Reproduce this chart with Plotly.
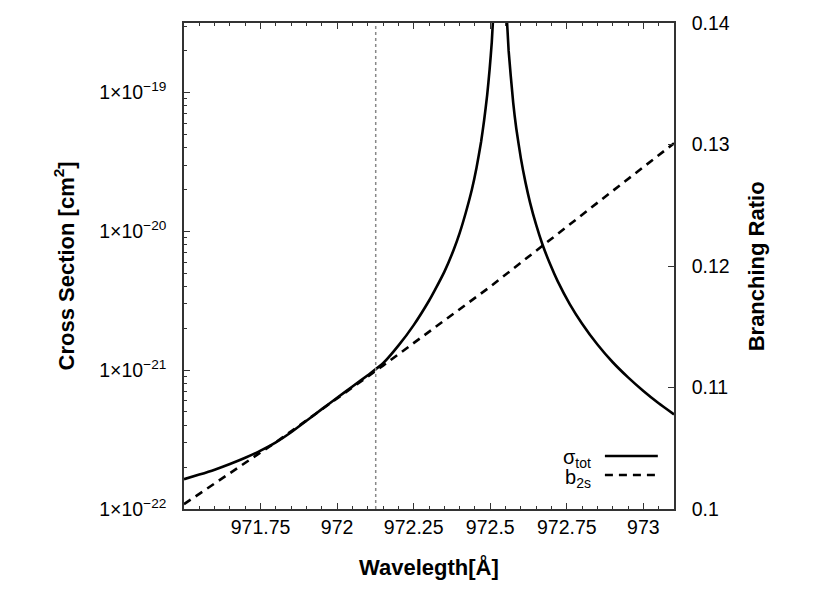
import plotly.graph_objects as go

# ---- data ----
wavelength_sigma = [971.50, 971.55, 971.60, 971.65, 971.70, 971.75, 971.80, 971.85,
                    971.90, 971.95, 972.00, 972.05, 972.10, 972.15, 972.20, 972.25,
                    972.30, 972.32, 972.35, 972.38, 972.40, 972.42, 972.44, 972.455,
                    972.47, 972.48, 972.49, 972.498, 972.505, 972.515, 972.532,
                    972.55, 972.56, 972.575, 972.585, 972.60, 972.615, 972.63, 972.65,
                    972.67, 972.695, 972.72, 972.76, 972.80, 972.85, 972.90, 972.95,
                    973.00, 973.05, 973.10]
sigma_tot = [1.64e-22, 1.77e-22, 1.92e-22, 2.11e-22, 2.34e-22, 2.63e-22, 3.02e-22, 3.57e-22,
             4.32e-22, 5.24e-22, 6.32e-22, 7.62e-22, 9.18e-22, 1.12e-21, 1.50e-21, 2.11e-21,
             3.16e-21, 3.8e-21, 5.1e-21, 7.3e-21, 9.7e-21, 1.36e-20, 2.0e-20, 2.86e-20,
             4.4e-20, 6.3e-20, 9.6e-20, 1.47e-19, 2.3e-19, 5.9e-19, 3.0e-18,
             5.2e-19, 2.0e-19, 8.4e-20, 5.5e-20, 3.35e-20, 2.25e-20, 1.61e-20, 1.11e-20,
             8.1e-21, 5.83e-21, 4.38e-21, 2.98e-21, 2.16e-21, 1.53e-21, 1.14e-21, 8.87e-22,
             7.08e-22, 5.77e-22, 4.80e-22]

wavelength_b2s = [971.50, 971.80, 972.15, 972.50, 972.86, 973.10]
b2s = [0.1004, 0.1055, 0.1118, 0.1183, 0.1254, 0.1301]

vline_wavelength = 972.126

x_tickvals = [971.75, 972.0, 972.25, 972.5, 972.75, 973.0]
x_ticktext = ["971.75", "972", "972.25", "972.5", "972.75", "973"]
y_tickvals = [1e-22, 1e-21, 1e-20, 1e-19]
y_ticktext = ["1\u00d710<sup>\u221222</sup>", "1\u00d710<sup>\u221221</sup>",
              "1\u00d710<sup>\u221220</sup>", "1\u00d710<sup>\u221219</sup>"]
y2_tickvals = [0.10, 0.11, 0.12, 0.13, 0.14]
y2_ticktext = ["0.1", "0.11", "0.12", "0.13", "0.14"]

FONT = "Liberation Sans, Arial, sans-serif"
AX = "#333333"

fig = go.Figure()
fig.add_trace(go.Scatter(x=wavelength_sigma, y=sigma_tot, mode="lines",
                         line=dict(color="black", width=2.6, shape="spline", smoothing=0.5),
                         showlegend=False, yaxis="y"))
fig.add_trace(go.Scatter(x=wavelength_b2s, y=b2s, mode="lines",
                         line=dict(color="black", width=2.6, dash="8px,6px"),
                         showlegend=False, yaxis="y2"))

fig.add_vline(x=vline_wavelength, line=dict(color="#888888", width=1.5, dash="3px,3px"))

minor_log = [m * 10.0 ** e for e in range(-22, -18) for m in range(2, 10)]
minor_log = [v for v in minor_log if v <= 10 ** -18.5]
minor_x = [971.5 + 0.05 * i for i in range(33)]

fig.update_layout(
    width=819, height=595,
    margin=dict(l=176, r=153, t=15, b=94, autoexpand=False),
    paper_bgcolor="white", plot_bgcolor="white",
    font=dict(family=FONT, size=19.5, color="black"),
    showlegend=False,
    xaxis=dict(range=[971.5, 973.1], tickmode="array", tickvals=x_tickvals,
               ticktext=x_ticktext, ticks="inside", ticklen=6, tickwidth=1,
               tickcolor=AX, showline=True, linecolor=AX, linewidth=1.5,
               mirror="ticks", showgrid=False, zeroline=False, automargin=False,
               ticklabelstandoff=0,
               minor=dict(tickmode="array", tickvals=minor_x, ticks="inside",
                          ticklen=3, tickcolor=AX, showgrid=False)),
    yaxis=dict(type="log", range=[-22, -18.5], tickmode="array", tickvals=y_tickvals,
               ticktext=y_ticktext, ticks="inside", ticklen=6, tickwidth=1,
               tickcolor=AX, showline=True, linecolor=AX, linewidth=1.5,
               showgrid=False, zeroline=False, ticklabelstandoff=12, automargin=False,
               minor=dict(tickmode="array", tickvals=minor_log, ticks="inside",
                          ticklen=3, tickcolor=AX, showgrid=False)),
    yaxis2=dict(overlaying="y", side="right", range=[0.1, 0.14], tickmode="array",
                tickvals=y2_tickvals, ticktext=y2_ticktext, ticks="inside", ticklen=6,
                tickwidth=1, tickcolor=AX, showline=True, linecolor=AX, linewidth=1.5,
                showgrid=False, zeroline=False, ticklabelstandoff=12, automargin=False),
)

title_font = dict(family=FONT, size=22, color="black")
fig.add_annotation(text="<b>Wavelegth[\u00c5]</b>", xref="paper", yref="paper",
                   x=0.5, y=-0.119, xanchor="center", yanchor="middle",
                   showarrow=False, font=title_font)
fig.add_annotation(text="<b>Cross Section [cm<sup>2</sup>]</b>", xref="paper", yref="paper",
                   x=-0.244, y=0.5, xanchor="center", yanchor="middle", textangle=-90,
                   showarrow=False, font=title_font)
fig.add_annotation(text="<b>Branching Ratio</b>", xref="paper", yref="paper",
                   x=1.168, y=0.5, xanchor="center", yanchor="middle", textangle=-90,
                   showarrow=False, font=title_font)

# legend (text left of sample line, as in reference)
leg_font = dict(family=FONT, size=20, color="black")
fig.add_annotation(text="\u03c3<sub>tot</sub>", xref="paper", yref="paper",
                   x=0.835, y=0.103, xanchor="right", yanchor="middle",
                   showarrow=False, font=leg_font)
fig.add_annotation(text="b<sub>2s</sub>", xref="paper", yref="paper",
                   x=0.835, y=0.062, xanchor="right", yanchor="middle",
                   showarrow=False, font=leg_font)
fig.add_shape(type="line", xref="paper", yref="paper", x0=0.859, x1=0.967,
              y0=0.109, y1=0.109, line=dict(color="black", width=2.6))
fig.add_shape(type="line", xref="paper", yref="paper", x0=0.859, x1=0.967,
              y0=0.070, y1=0.070, line=dict(color="black", width=2.6, dash="8px,6px"))

fig.write_html("out.html")
